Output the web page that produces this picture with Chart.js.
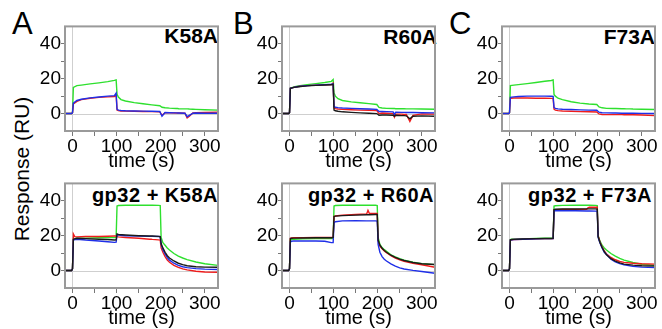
<!DOCTYPE html>
<html><head><meta charset="utf-8">
<script src="https://cdn.jsdelivr.net/npm/chart.js@4"></script>
<style>
body{margin:0;background:#fff;width:662px;height:329px;overflow:hidden;position:relative;font-family:'Liberation Sans',Arial,sans-serif;}
canvas{position:absolute;}
.lbl{position:absolute;white-space:nowrap;line-height:1;color:#000;}
.let{font-size:31px;}
.t1{font-size:21px;font-weight:bold;text-align:right;}
.t2{font-size:20px;font-weight:bold;text-align:right;letter-spacing:0.5px;}
</style></head><body>
<div class="lbl let" style="left:12px;top:8px;">A</div>
<div class="lbl let" style="left:233px;top:8px;">B</div>
<div class="lbl let" style="left:449px;top:8px;">C</div>
<div class="lbl t1" style="right:444px;top:24.5px;">K58A</div>
<div class="lbl t1" style="right:225px;top:25.5px;">R60A</div>
<div class="lbl t1" style="right:7px;top:25.5px;">F73A</div>
<div class="lbl t2" style="right:444px;top:185px;">gp32 + K58A</div>
<div class="lbl t2" style="right:228px;top:185px;">gp32 + R60A</div>
<div class="lbl t2" style="right:10px;top:185px;">gp32 + F73A</div>
<div class="lbl" style="left:-78px;top:157px;width:200px;height:24px;line-height:24px;text-align:center;font-size:21px;transform:rotate(-90deg);">Response (RU)</div>
<script>
// ---- axis ticks ----
const xTicks = [0, 50, 100, 150, 200, 250, 300];
const xLabels = [0, 100, 200, 300];
const yTicks = [0, 10, 20, 30, 40];
const yLabels = [0, 20, 40];
const xMin = -17, xMax = 330, yMin = -10, yMax = 50;

// ---- time points (s) ----
const tTop = [-17,-2,0,2,10,20,40,60,80,95,99,101,104,110,120,140,160,180,198,203,210,220,235,238,241,255,260,265,273,280,300,330];
const tBot = [-17,-2,0,2,5,10,30,60,80,95,99,101,104,120,150,175,178,181,195,199,201,205,210,215,220,230,240,250,260,280,300,330];

// ---- A: K58A ----
const aTopGreen = [0,0,0.5,15,16,16.3,17,17.6,18.3,19,19.3,11,9.5,8,7.2,6.3,5.6,5,4.5,3.6,3.3,3.1,2.9,2.9,2.8,2.7,2.7,2.6,2.5,2.4,2.2,2];
const aTopBlue  = [0,0,0.5,6,7.5,8.2,9,9.5,10,10.3,11.8,2.5,2,1.8,1.6,1.5,1.4,1.3,1.2,-1.5,0.6,0.5,0.4,0.3,0.3,0.2,-1.8,-1,0.2,0.3,0.2,0.2];
const aTopRed   = [0,0,0.5,5.5,7,8,8.8,9.3,9.6,9.8,10.5,2,1.7,1.5,1.4,1.3,1.2,1.1,1,-1,0.5,0.4,0.3,0.3,0.3,0.2,-2.5,-1.5,0.3,0.5,0.6,0.8];

// ---- B: R60A ----
const bTopGreen = [0,0,0.5,14.5,15.3,15.8,16.5,17.2,17.8,18.5,19.5,12,10,8.5,7.5,6.7,6.2,5.7,5.2,3.5,3.2,3,2.9,2.9,2.8,2.8,2.8,2.7,2.7,2.7,2.6,2.5];
const bTopBlue  = [0,0,0.5,14.5,15,15.5,16,16.3,16.6,16.8,17,4,3.6,3.4,3.2,3,2.8,2.6,2.4,1.2,1.2,1.1,1,-0.5,0.8,0.7,0.7,0.6,0.6,0.6,0.5,0.4];
const bTopRed   = [0,0,0.5,14.5,15,15.5,16,16.3,16.5,16.7,17.5,3.2,2.8,2.6,2.4,2.2,2,1.9,1.7,0,0.3,0.2,0,-2,-0.3,-0.3,-0.5,-0.5,-4.5,-1,-0.2,-0.3];
const bTopBlack = [0,0,0.5,14.5,15,15.4,15.9,16.2,16.4,16.5,16.8,2,1.6,1.3,1,0.7,0.4,0.2,0,-1,-0.8,-0.8,-1,-1.5,-1,-1.2,-1.2,-1.3,-3,-1.5,-1.3,-1.5];

// ---- C: F73A ----
const cTopGreen = [0,0,0.5,16,16.3,16.6,17.2,17.8,18.5,19,19.3,11,10,8.8,8,6.8,6,5.5,5.2,3.8,3.3,3,2.9,2.9,2.9,2.8,2.8,2.7,2.7,2.6,2.5,2.3];
const cTopBlue  = [0,0,0.5,9.3,9.6,9.8,10,10,10,9.9,9.8,3.5,3,2.7,2.5,2.3,2.1,2,1.9,0.8,0.5,0.4,0.3,0.3,0.3,0.2,0.2,0.2,0.2,0.2,0.1,0];
const cTopRed   = [0,0,0.5,8.8,8.9,8.9,8.9,8.8,8.8,8.7,8.6,2.5,2,1.7,1.5,1.3,1.1,1,0.9,-0.2,-0.5,-0.6,-0.6,-0.6,-0.6,-0.6,-0.7,-0.7,-0.7,-0.7,-0.8,-1.2];

// ---- gp32 + K58A ----
const aBotGreen = [0,0,1,18,18.3,18.5,18.6,18.8,18.9,19,19.2,37,37.3,37.5,37.5,37.5,37.5,37.5,37.4,37.3,19,16,14.5,13,11.8,9.8,8.3,7.2,6.3,4.9,3.9,3];
const aBotBlue  = [0,0,1,17.5,17.8,18,17.5,17,16.5,16.2,16.3,20.5,20.3,20,19.8,19.6,19.6,19.6,19.5,19.4,15,12,9.5,7.5,6,4.2,3,2.2,1.7,1.1,0.8,0.6];
const aBotRed   = [0,0,1,21,19.5,19.3,19.5,19.5,19.7,19.8,19.8,19.5,19.3,19,18.5,18,18,17.9,17.6,17.5,13,10.5,8,6,4.8,3,1.8,1,0.4,-0.4,-0.8,-1];
const aBotBlack = [0,0,1,18,18.2,18.5,18.3,18,17.8,17.5,17.6,21,20.7,20.4,20,19.8,19.8,19.8,19.6,19.5,15.5,13,10.5,8.5,7.2,5.5,4.2,3.4,2.8,2.2,2,1.9];

// ---- gp32 + R60A ----
const bBotGreen = [0,0,1,17.5,17.8,18,18.2,18.3,18.3,18.4,18.5,37,37.3,37.5,37.5,37.5,37.5,37.5,37.5,37.3,19,15,13.2,12,11,9,7.8,6.8,6,4.8,3.9,3.4];
const bBotBlue  = [0,0,1,16.5,16.8,17,17,17,16.8,16,16,27.5,28,28.5,28.6,28.5,28.5,28.5,28.5,28.4,15,10.5,8,6.5,5.5,3.8,2.5,1.5,0.9,0.1,-0.5,-1.5];
const bBotRed   = [0,0,1,18.5,18.7,18.8,18.9,19,19,19,19.2,31,31.3,31.8,32.2,32.5,34.5,32.8,32.8,32.8,17,14,12.5,11.3,10.3,8.5,7.2,6.2,5.3,4.1,3.3,1.9];
const bBotBlack = [0,0,1,18.3,18.5,18.6,18.7,18.8,18.8,18.8,19,31,31.2,31.5,31.8,32,32,32,32.2,32.2,17.5,14.5,12.8,11.5,10.5,8.8,7.6,6.6,5.8,4.6,3.9,3.5];

// ---- gp32 + F73A ----
const cBotGreen = [0,0,1,17.8,18,18,18.2,18.4,18.5,18.5,18.6,37,37.2,37.4,37.5,37.5,37.5,37.5,37.4,37.3,20,17,14.5,13,11.8,9.8,8.3,7,6,4.6,3.6,3];
const cBotBlue  = [0,0,1,17.5,17.7,17.8,18,18.2,18.3,18.3,18.4,34.2,34.3,34.3,34.3,34.2,34.2,34.2,34.1,34,19,16,13,10.5,9.2,6.5,5,4,3.3,2.4,2,1.7];
const cBotRed   = [0,0,1,17.5,17.7,17.8,18,18.2,18.3,18.3,18.4,34.8,34.9,35,35,35.2,36,36.3,36.3,36.3,20,16.5,13.6,11.3,9.5,7.5,6.2,5.2,4.7,4.2,3.9,3.7];
const cBotBlack = [0,0,1,17.6,17.8,17.9,18.1,18.3,18.4,18.4,18.5,35,35.2,35.3,35.3,35.4,35.4,35.4,35.4,35.3,19.5,16.2,13.2,10.8,9,6.8,5.4,4.4,3.7,3.1,2.8,2.6];

const COL = {black:'#1a1a1a', blue:'#1f2fe8', red:'#ee1c1c', green:'#2ee02e'};
const F = "'Liberation Sans', Arial, sans-serif";
const PW = 153, PH = 106, PADL = 45, PADT = 10, PADR = 6, XH = 42, PADB = 0;

const panels = [
  {left:65,  top:25,  t:tTop, s:{blue:aTopBlue, red:aTopRed, green:aTopGreen}},
  {left:282, top:25,  t:tTop, s:{black:bTopBlack, blue:bTopBlue, red:bTopRed, green:bTopGreen}},
  {left:502, top:25,  t:tTop, s:{blue:cTopBlue, red:cTopRed, green:cTopGreen}},
  {left:65,  top:182, t:tBot, s:{black:aBotBlack, blue:aBotBlue, red:aBotRed, green:aBotGreen}},
  {left:282, top:182, t:tBot, s:{black:bBotBlack, blue:bBotBlue, red:bBotRed, green:bBotGreen}},
  {left:502, top:182, t:tBot, s:{black:cBotBlack, blue:cBotBlue, red:cBotRed, green:cBotGreen}},
];

const framePlugin = {
  id:'frame',
  beforeDatasetsDraw(c){
    const {ctx, chartArea:a, scales:{x, y}} = c;
    ctx.save();
    ctx.strokeStyle = '#cfcfcf'; ctx.lineWidth = 1;
    const x0 = Math.round(x.getPixelForValue(0)) + 0.5, y0 = Math.round(y.getPixelForValue(0)) + 0.5;
    ctx.beginPath();
    ctx.moveTo(x0, a.top); ctx.lineTo(x0, a.bottom);
    ctx.moveTo(a.left, y0); ctx.lineTo(a.right, y0);
    ctx.stroke();
    ctx.restore();
  },
  afterDatasetsDraw(c){
    const {ctx, chartArea:a} = c;
    ctx.save();
    ctx.strokeStyle = '#9a9a9a'; ctx.lineWidth = 2;
    ctx.strokeRect(a.left, a.top, a.right - a.left, a.bottom - a.top);
    ctx.restore();
  }
};

panels.forEach(p => {
  const cv = document.createElement('canvas');
  cv.width = PADL + PW + PADR;
  cv.height = PADT + PH + XH + PADB;
  cv.style.left = (p.left - PADL) + 'px';
  cv.style.top = (p.top - PADT) + 'px';
  document.body.appendChild(cv);
  const datasets = Object.keys(p.s).map(k => ({
    data: p.t.map((tv, i) => ({x: tv, y: p.s[k][i]})),
    borderColor: COL[k], borderWidth: 1.4, pointRadius: 0, tension: 0, fill: false
  }));
  new Chart(cv, {
    type: 'line',
    data: {datasets},
    options: {
      responsive: false, animation: false, events: [],
      layout: {padding: {top: PADT, right: PADR, bottom: PADB, left: 0}},
      plugins: {legend: {display: false}, tooltip: {enabled: false}},
      scales: {
        x: {
          type: 'linear', min: xMin, max: xMax,
          afterBuildTicks: s => { s.ticks = xTicks.map(v => ({value: v})); },
          afterFit: s => { s.height = XH; },
          ticks: {callback: v => xLabels.includes(v) ? String(v) : '', font: {size: 19, family: F}, color: '#000', padding: -1, maxRotation: 0, autoSkip: false},
          grid: {drawOnChartArea: false, color: '#777', tickLength: 5},
          border: {display: false},
          title: {display: true, text: 'time (s)', font: {size: 20, family: F}, color: '#000', padding: 0}
        },
        y: {
          min: yMin, max: yMax,
          afterBuildTicks: s => { s.ticks = yTicks.map(v => ({value: v})); },
          afterFit: s => { s.width = PADL; },
          ticks: {callback: v => yLabels.includes(v) ? String(v) : '', font: {size: 19, family: F}, color: '#000', padding: 0, autoSkip: false},
          grid: {drawOnChartArea: false, color: '#777', tickLength: 4},
          border: {display: false}
        }
      }
    },
    plugins: [framePlugin]
  });
});
</script>
</body></html>
